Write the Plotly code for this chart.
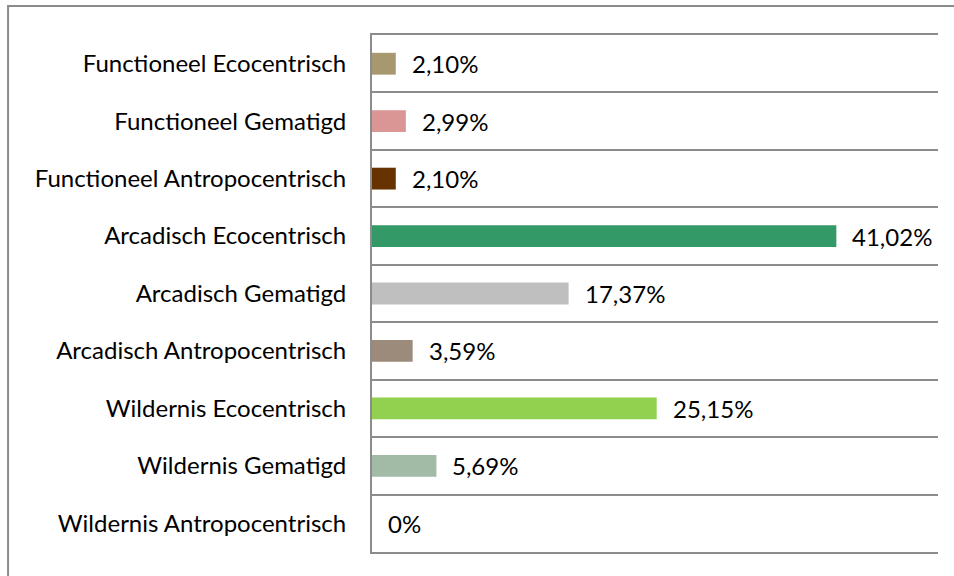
import plotly.graph_objects as go

categorieen = [
    "Functioneel Ecocentrisch",
    "Functioneel Gematigd",
    "Functioneel Antropocentrisch",
    "Arcadisch Ecocentrisch",
    "Arcadisch Gematigd",
    "Arcadisch Antropocentrisch",
    "Wildernis Ecocentrisch",
    "Wildernis Gematigd",
    "Wildernis Antropocentrisch",
]
percentages = [2.10, 2.99, 2.10, 41.02, 17.37, 3.59, 25.15, 5.69, 0]
kleuren = ["#A89870", "#DA9694", "#663300", "#339966", "#BFBFBF",
           "#9C8B7A", "#92D050", "#A1BBA7", "#FFFFFF"]

labels = ["0%" if v == 0 else f"{v:.2f}%".replace(".", ",") for v in percentages]

grijs = "#8C8C8C"
font = dict(family="Lato", size=24, color="#000000")

fig = go.Figure()
fig.add_trace(go.Bar(
    x=percentages, y=categorieen, orientation="h",
    marker=dict(color=kleuren, line=dict(width=0)),
    showlegend=False, hoverinfo="skip",
))

for cat, v, lab in zip(categorieen, percentages, labels):
    fig.add_annotation(x=v, y=cat, text=lab, showarrow=False,
                       xanchor="left", xshift=14, font=font)

# outer chart frame (cropped)
fig.add_shape(type="path", xref="paper", yref="paper",
              path="M -0.643,-1 L -0.643,1.056 L 2,1.056",
              line=dict(color=grijs, width=2))

fig.update_layout(
    width=954, height=576,
    margin=dict(l=372, r=16, t=35, b=24),
    paper_bgcolor="white", plot_bgcolor="white",
    bargap=0.62,
    font=font,
)
fig.update_xaxes(range=[0, 50], showticklabels=False, showgrid=False,
                 zeroline=False, showline=True, mirror=True,
                 linecolor=grijs, linewidth=2)
fig.update_yaxes(categoryorder="array", categoryarray=categorieen[::-1],
                 tickson="boundaries", showgrid=True, gridcolor=grijs, gridwidth=2,
                 showline=True, linecolor=grijs, linewidth=2,
                 ticks="", ticklabelstandoff=19)

fig.write_html("out.html", config={"displayModeBar": False},
               post_script="document.body.style.margin='0';")
